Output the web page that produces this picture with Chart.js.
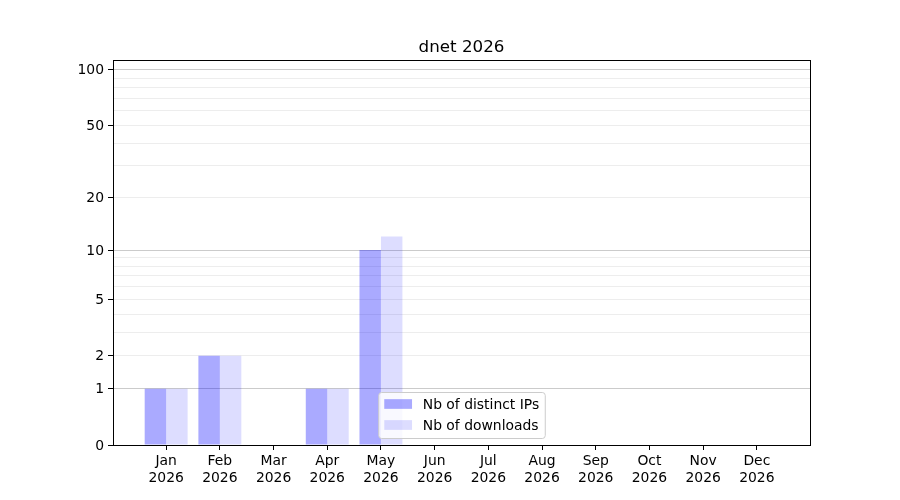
<!DOCTYPE html>
<html>
<head>
<meta charset="utf-8">
<script src="https://cdn.jsdelivr.net/npm/chart.js@4.4.1/dist/chart.umd.min.js"></script>
<style>
  html, body { margin: 0; padding: 0; background: #fff; }
  #wrap { width: 900px; height: 500px; }
</style>
</head>
<body>
<div id="wrap"><canvas id="dnetChart" width="900" height="500"></canvas></div>
<script>
const months = ['Jan', 'Feb', 'Mar', 'Apr', 'May', 'Jun', 'Jul', 'Aug', 'Sep', 'Oct', 'Nov', 'Dec'];
const year = '2026';
const distinctIps = [1, 2, 0, 1, 10, 0, 0, 0, 0, 0, 0, 0];
const downloads = [1, 2, 0, 1, 12, 0, 0, 0, 0, 0, 0, 0];
const yTickLabels = [0, 1, 2, 5, 10, 20, 50, 100];
const yMajorGrid = [1, 10, 100];
const yMinorGrid = [2, 3, 4, 5, 6, 7, 8, 9, 20, 30, 40, 50, 60, 70, 80, 90];

const FONT = "'DejaVu Sans', sans-serif";
const log1p = v => Math.log10(1 + v);

// y axis scale: log10(1 + x)
class Log1pScale extends Chart.Scale {
    determineDataLimits() {
        const { max } = this.getMinMax(true);
        this.min = this.options.min ?? 0;
        this.max = this.options.max ?? max;
    }
    buildTicks() {
        const vals = [...new Set([0, ...yTickLabels, ...yMajorGrid, ...yMinorGrid])].sort((a, b) => a - b);
        return vals.filter(v => v >= this.min && v <= this.max).map(v => ({ value: v }));
    }
    configure() {
        super.configure();
        this._startValue = log1p(this.min);
        this._valueRange = log1p(this.max) - log1p(this.min);
    }
    getLabelForValue(v) {
        return String(v);
    }
    getPixelForValue(v) {
        return this.getPixelForDecimal((log1p(v) - this._startValue) / this._valueRange);
    }
    getValueForPixel(p) {
        return Math.pow(10, this._startValue + this.getDecimalForPixel(p) * this._valueRange) - 1;
    }
}
Log1pScale.id = 'log1p';
Log1pScale.defaults = {};
Chart.register(Log1pScale);

const frame = {
    id: 'frame',
    afterDatasetsDraw(chart) {
        const { ctx, chartArea: a } = chart;
        ctx.save();
        ctx.strokeStyle = '#000';
        ctx.lineWidth = 1;
        ctx.strokeRect(Math.round(a.left) + 0.5, Math.round(a.top) + 0.5,
            Math.round(a.right - a.left), Math.round(a.bottom - a.top));
        ctx.restore();
    }
};

const innerLegend = {
    id: 'innerLegend',
    afterDraw(chart) {
        const { ctx, chartArea: a } = chart;
        const fs = 13.9;
        ctx.save();
        ctx.font = fs + 'px ' + FONT;
        const sets = chart.data.datasets;
        const textW = Math.max(...sets.map(d => ctx.measureText(d.label).width));
        const pad = 5.6, handle = 27.8, gap = 11.1;
        const w = pad + handle + gap + textW + pad;
        const h = 46;
        const x = (a.left + a.right) / 2 - w / 2;
        const y = a.bottom - 7 - h;
        ctx.beginPath();
        ctx.roundRect(x + 0.5, y + 0.5, w, h, 3);
        ctx.fillStyle = 'rgba(255,255,255,0.8)';
        ctx.fill();
        ctx.strokeStyle = '#cccccc';
        ctx.lineWidth = 1;
        ctx.stroke();
        const rows = [y + 12, y + 33];
        sets.forEach((d, i) => {
            ctx.fillStyle = d.backgroundColor;
            ctx.fillRect(x + 6, rows[i] - 4.85, handle, 9.7);
            ctx.fillStyle = '#000';
            ctx.textBaseline = 'middle';
            ctx.textAlign = 'left';
            ctx.fillText(d.label, x + pad + handle + gap, rows[i] + 1);
        });
        ctx.restore();
    }
};

const ctx = document.getElementById('dnetChart');
new Chart(ctx, {
    type: 'bar',
    data: {
        datasets: [
            {
                label: 'Nb of distinct IPs',
                data: distinctIps.map((v, i) => ({ x: i, y: v })),
                backgroundColor: 'rgba(0,0,255,0.333)',
                borderColor: 'rgba(0,0,0,0)',
            },
            {
                label: 'Nb of downloads',
                data: downloads.map((v, i) => ({ x: i, y: v })),
                backgroundColor: 'rgba(0,0,255,0.133)',
                borderColor: 'rgba(0,0,0,0)',
            },
        ],
    },
    options: {
        responsive: false,
        animation: false,
        devicePixelRatio: 1,
        categoryPercentage: 0.8,
        barPercentage: 1.0,
        datasets: { bar: { borderWidth: 0, inflateAmount: 0 } },
        layout: { padding: { left: 0, right: 90, top: 0, bottom: 0 } },
        plugins: {
            legend: { display: false },
            tooltip: { enabled: false },
            title: {
                display: true,
                fullSize: false,
                text: 'dnet ' + year,
                color: '#000',
                font: { family: FONT, size: 16.7, weight: 'normal' },
                padding: { top: 38, bottom: 2 },
            },
        },
        scales: {
            x: {
                type: 'linear',
                min: -0.99,
                max: 11.99,
                offset: false,
                afterBuildTicks: axis => {
                    axis.ticks = months.map((m, i) => ({ value: i }));
                },
                afterFit: axis => { axis.height = 55; },
                grid: { offset: false, drawOnChartArea: false, tickLength: 5, tickColor: '#000' },
                border: { color: '#000', width: 1 },
                ticks: {
                    autoSkip: false,
                    maxRotation: 0,
                    padding: 3,
                    color: '#000',
                    font: { family: FONT, size: 13.9 },
                    callback: v => [months[v], year],
                },
            },
            y: {
                type: 'log1p',
                min: 0,
                max: 113,
                afterFit: axis => { axis.width = 113; },
                grid: {
                    tickLength: 5,
                    lineWidth: 1,
                    color: c => yMajorGrid.includes(c.tick.value) ? '#cbcbcb'
                        : yMinorGrid.includes(c.tick.value) ? '#ededed' : 'rgba(0,0,0,0)',
                    tickColor: c => yTickLabels.includes(c.tick.value) ? '#000' : 'rgba(0,0,0,0)',
                },
                border: { color: '#000', width: 1 },
                ticks: {
                    autoSkip: false,
                    padding: 4,
                    labelOffset: 1,
                    color: '#000',
                    font: { family: FONT, size: 13.9 },
                    callback: v => yTickLabels.includes(v) ? String(v) : '',
                },
            },
        },
    },
    plugins: [frame, innerLegend],
});
</script>
</body>
</html>
